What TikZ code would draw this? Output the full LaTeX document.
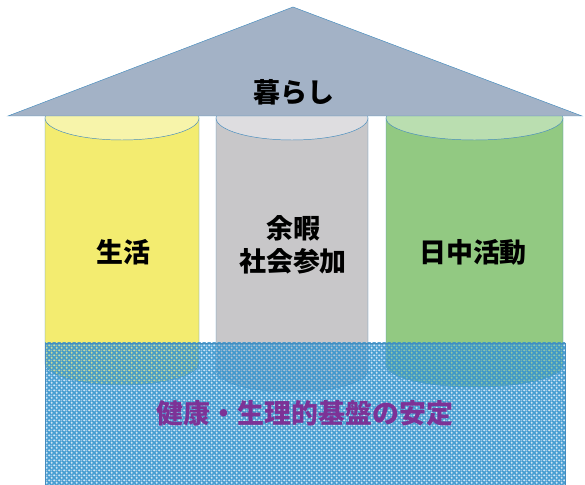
\documentclass[tikz,border=0pt]{standalone}
\usepackage{fontspec}
\newfontfamily\jpfont{Noto Sans CJK JP}[BoldFont={Noto Sans CJK JP Black}]
\usepackage{tikz}
\usetikzlibrary{patterns.meta}
\definecolor{roofgray}{RGB}{163,178,198}
\definecolor{edgeblue}{RGB}{70,140,190}
\definecolor{lifeyellow}{RGB}{243,236,112}
\definecolor{lifeyellowtop}{RGB}{247,244,170}
\definecolor{leisuregray}{RGB}{200,199,201}
\definecolor{leisuregraytop}{RGB}{222,221,224}
\definecolor{daygreen}{RGB}{146,201,130}
\definecolor{daygreentop}{RGB}{186,222,176}
\definecolor{meshblue}{RGB}{50,145,205}
\definecolor{basepurple}{RGB}{125,50,150}
\tikzdeclarepattern{name=mesh, type=uncolored,
  bounding box={(0,0) and (4pt,4pt)}, tile size={(4pt,4pt)},
  code={\draw[line width=1.5pt] (0,0) -- (4pt,4pt) (0,4pt) -- (4pt,0);}}
\tikzset{label/.style={font=\jpfont\bfseries\fontsize{23}{28}\selectfont, align=center}}
% pillar: (left,right)(bottom) {body colour}{top colour}
\def\pillar(#1,#2)(#3)#4#5{
  \fill[#4] (#1, 367) -- (#1, #3) arc (180:360:{(#2-#1)/2} and 22) -- (#2, 367) -- cycle;
  \draw[edgeblue, thin] (#1, 367) -- (#1, #3) arc (180:360:{(#2-#1)/2} and 22) -- (#2, 367);
  \draw[edgeblue, thin, fill=#5] ({(#1+#2)/2}, 367) ellipse ({(#2-#1)/2} and 22);
}

\begin{document}
\begin{tikzpicture}[x=0.03cm, y=0.03cm]
		%%%%% START %%%%%
		\useasboundingbox (0, 0) rectangle (585, 485);
		
		\pillar(45,199)(122){lifeyellow}{lifeyellowtop}
		\pillar(216,368)(115){leisuregray}{leisuregraytop}
		\pillar(386,563)(120){daygreen}{daygreentop}
		
		\draw[edgeblue, thin, fill=roofgray] (8, 369) -- (293, 478) -- (582, 369) -- cycle;
		
		\node[label] (life) at (123, 233) {生活};
		\node[label] (leisure) at (293, 240) {余暇\\社会参加};
		\node[label] (day) at (473, 233) {日中活動};
		\node[label] (living) at (294, 393) {暮らし};
		
		\fill[meshblue!55, opacity=0.4] (45, -5) rectangle (565, 142);
		\fill[pattern=mesh, pattern color=meshblue, opacity=0.85] (45, -5) rectangle (565, 142);
		\draw[edgeblue, thin] (45, -5) rectangle (565, 142);
		
		\node[label, text=basepurple] (base) at (305, 72) {健康・生理的基盤の安定};
		%%%%% END %%%%%
	\end{tikzpicture}
\end{document}
